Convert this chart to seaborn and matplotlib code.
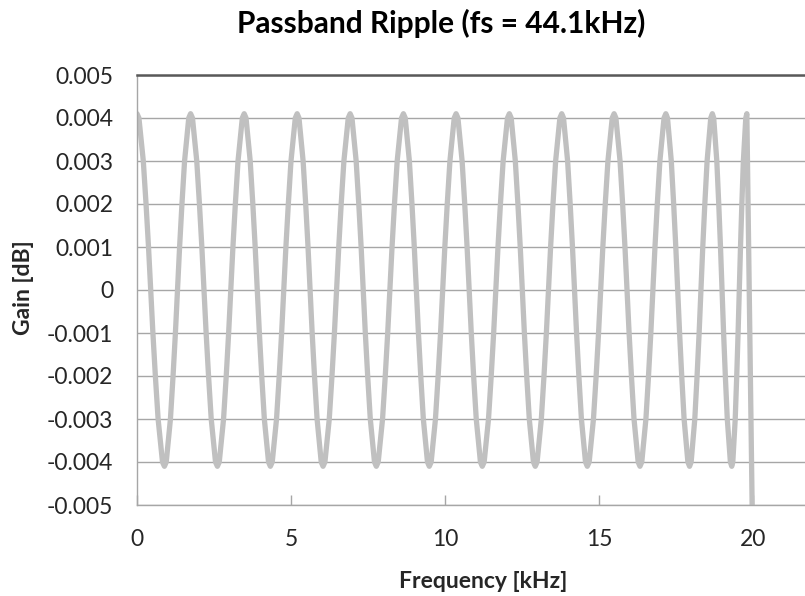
import matplotlib
matplotlib.use("Agg")
import matplotlib.pyplot as plt
import seaborn as sns
import pandas as pd

# --- data ---
# alternating peak / trough frequencies of the ripple (kHz)
extrema_khz = [0.0, 0.89, 1.74, 2.61, 3.48, 4.33, 5.20, 6.04, 6.92, 7.77,
               8.65, 9.49, 10.36, 11.21, 12.09, 12.93, 13.79, 14.62, 15.49,
               16.33, 17.17, 17.94, 18.68, 19.31, 19.80]
extrema_gain = [0.0041, -0.0041] * 12 + [0.0041]
# shape of one falling half-cycle (peak -> trough), read where the curve
# crosses each gridline, as fraction of the half-cycle width
profile_frac = [0.0, 0.07, 0.23, 0.33, 0.42, 0.50, 0.58, 0.67, 0.77, 0.93, 1.0]
profile_gain = [0.0041, 0.004, 0.003, 0.002, 0.001, 0.0, -0.001, -0.002,
                -0.003, -0.004, -0.0041]
# final steep drop at the band edge
end_khz = [20.0]
end_gain = [-0.0065]

x_ticks = [0, 5, 10, 15, 20]
y_ticks = [-0.005, -0.004, -0.003, -0.002, -0.001, 0.0, 0.001, 0.002, 0.003, 0.004, 0.005]
y_tick_labels = ["-0.005", "-0.004", "-0.003", "-0.002", "-0.001", "0",
                 "0.001", "0.002", "0.003", "0.004", "0.005"]

freq, gain = [], []
for i in range(len(extrema_khz) - 1):
    f0, f1 = extrema_khz[i], extrema_khz[i + 1]
    sign = 1 if extrema_gain[i] > 0 else -1
    for fr, g in zip(profile_frac[:-1], profile_gain[:-1]):
        freq.append(f0 + fr * (f1 - f0))
        gain.append(sign * g)
freq.append(extrema_khz[-1]); gain.append(extrema_gain[-1])
freq += end_khz; gain += end_gain
df = pd.DataFrame({"Frequency": freq, "Gain": gain})

sns.set_theme(style="white")
plt.rcParams["font.family"] = ["Lato", "DejaVu Sans"]

fig = plt.figure(figsize=(8.05, 5.96), dpi=100)
ax = fig.add_axes([137 / 805, 1 - 505 / 596, 693 / 805, 430 / 596])

sns.lineplot(data=df, x="Frequency", y="Gain", ax=ax, color="#c0c0c0",
             linewidth=3.8, estimator=None, sort=False)

ax.set_xlim(0, 22.5)
ax.set_ylim(-0.005, 0.005)
ax.set_yticks(y_ticks)
ax.set_yticklabels(y_tick_labels)
ax.set_xticks(x_ticks)
ax.set_xticklabels([str(t) for t in x_ticks])

ax.grid(axis="y", color="#a6a6a6", linewidth=1.0)
ax.grid(axis="x", visible=False)
ax.set_axisbelow(True)

for side in ["left", "bottom"]:
    ax.spines[side].set_color("#a6a6a6")
    ax.spines[side].set_linewidth(1.0)
ax.spines["top"].set_color("#595959")
ax.spines["top"].set_linewidth(1.8)
ax.spines["right"].set_visible(False)

ax.tick_params(axis="y", length=0, pad=17, labelsize=16.5, labelcolor="#262626")
ax.tick_params(axis="x", direction="in", length=7, width=1, color="#a6a6a6",
               pad=17, labelsize=16.5, labelcolor="#262626", bottom=True)

ax.set_xlabel("Frequency [kHz]", fontsize=16.5, fontweight="bold", color="#262626")
ax.set_ylabel("Gain [dB]", fontsize=16.5, fontweight="bold", color="#262626")
ax.yaxis.set_label_coords((34 - 137) / 693, 0.505)
ax.xaxis.set_label_coords(0.5, -(571 - 505) / 430)
ax.set_title("Passband Ripple (fs = 44.1kHz)", fontsize=21.5, fontweight="bold",
             color="#000000", pad=30, x=(441 - 137) / 693)

fig.savefig("out.png", dpi=100)
